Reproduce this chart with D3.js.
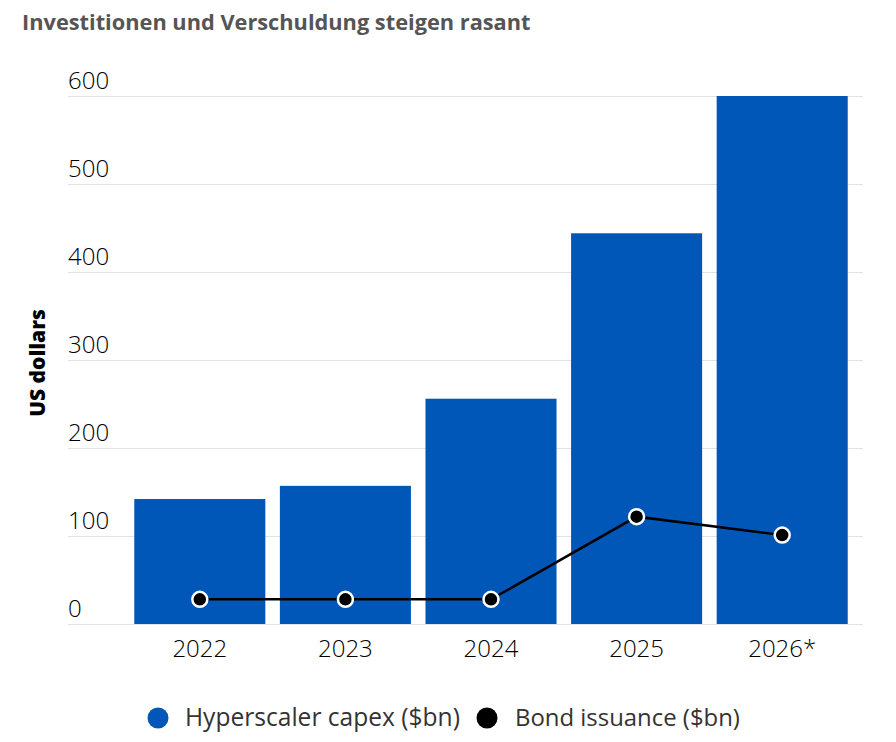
<!DOCTYPE html>
<html><head><meta charset="utf-8">
<script src="https://cdn.jsdelivr.net/npm/d3@7"></script>
<style>
html,body{margin:0;padding:0;background:#fff;}
svg{display:block;}
</style></head>
<body>
<svg id="chart" width="896" height="742"></svg>
<script>
const categories = ["2022","2023","2024","2025","2026*"];
const capex = [142, 157, 256, 444, 600];
const bonds = [28, 28, 28, 122, 101];
const yTicks = [0,100,200,300,400,500,600];
const title = "Investitionen und Verschuldung steigen rasant";
const yTitle = "US dollars";
const legendLabels = ["Hyperscaler capex ($bn)", "Bond issuance ($bn)"];

const blue = "#0057b7";
const svg = d3.select("#chart");

const x = d3.scaleBand().domain(categories).range([127, 855]).paddingInner(0.1).paddingOuter(0.05);
const y = d3.scaleLinear().domain([0,600]).range([624, 96]);

function fit(sel, target){
  const w = sel.node().getComputedTextLength();
  const fs = +sel.attr("font-size");
  sel.attr("font-size", fs*target/w);
}

// title
const t = svg.append("text").attr("x",22).attr("y",30)
  .attr("font-family","'Open Sans', sans-serif").attr("font-weight",700)
  .attr("font-size",21).attr("fill","#555").text(title);
fit(t, 509);

// grid
const grid = svg.append("g")
  .call(d3.axisLeft(y).tickValues(yTicks).tickSize(-(863-68)).tickFormat(""));
grid.attr("transform","translate(68,0)");
grid.select(".domain").remove();
grid.selectAll("line").attr("stroke","#e3e3e3").attr("stroke-width",1);

// bars
svg.append("g").selectAll("rect").data(capex).join("rect")
  .attr("x",(d,i)=>x(categories[i])).attr("width",x.bandwidth())
  .attr("y",d=>y(d)).attr("height",d=>y(0)-y(d)).attr("fill",blue);

// y tick labels
svg.append("g").selectAll("text").data(yTicks).join("text")
  .attr("x",68).attr("y",d=>y(d)-7)
  .attr("font-family","'Open Sans', sans-serif").attr("font-weight",300)
  .attr("font-size",24).attr("fill","#000").text(d=>d);

// x axis
const xa = svg.append("g").attr("transform",`translate(0,${y(0)})`)
  .call(d3.axisBottom(x).tickSize(0).tickPadding(16));
xa.select(".domain").remove();
xa.selectAll("text").attr("font-family","'Open Sans', sans-serif").attr("font-weight",300)
  .attr("font-size",24).attr("fill","#000").attr("dy","0.71em");

// y title
svg.append("text").attr("transform",`translate(45,363) rotate(-90)`)
  .attr("text-anchor","middle").attr("font-family","'Open Sans', sans-serif")
  .attr("font-weight",800).attr("font-size",21).attr("fill","#000").text(yTitle);

// line
const line = d3.line().x((d,i)=>x(categories[i])+x.bandwidth()/2).y(d=>y(d));
svg.append("path").datum(bonds).attr("d",line).attr("fill","none")
  .attr("stroke","#000").attr("stroke-width",2.5);
svg.append("g").selectAll("circle").data(bonds).join("circle")
  .attr("cx",(d,i)=>x(categories[i])+x.bandwidth()/2).attr("cy",d=>y(d))
  .attr("r",7.5).attr("fill","#000").attr("stroke","#fff").attr("stroke-width",2.5);

// legend
const lg = svg.append("g");
const items = [{c:blue, cx:158, tx:185, w:275},{c:"#000", cx:487, tx:515, w:225}];
items.forEach((it,i)=>{
  lg.append("circle").attr("cx",it.cx).attr("cy",718).attr("r",10.5).attr("fill",it.c);
  const lt = lg.append("text").attr("x",it.tx).attr("y",726)
    .attr("font-family","'Open Sans', sans-serif").attr("font-size",21).attr("fill","#333")
    .text(legendLabels[i]);
  fit(lt, it.w);
});
</script>
</body></html>
